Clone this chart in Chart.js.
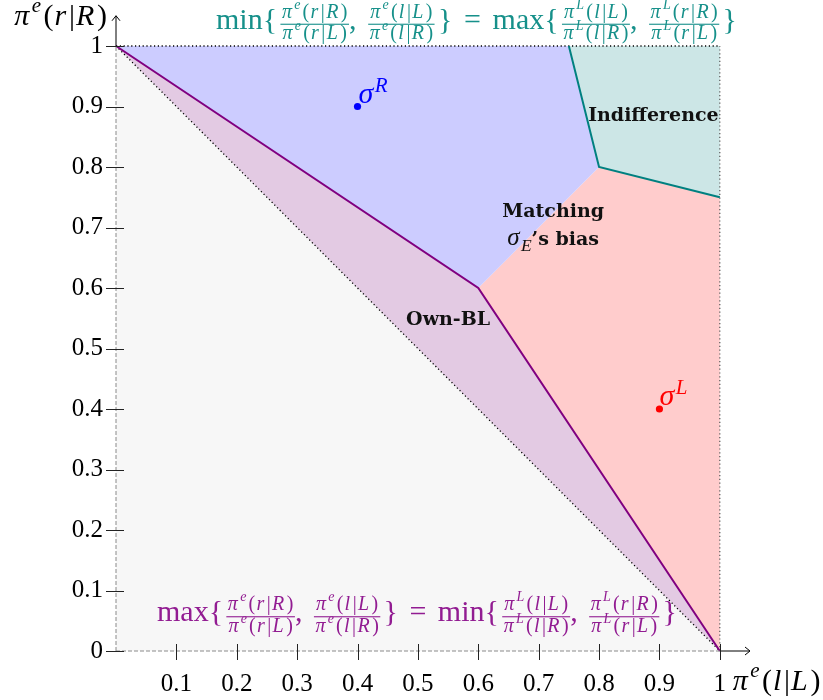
<!DOCTYPE html>
<html>
<head>
<meta charset="utf-8">
<script src="https://cdn.jsdelivr.net/npm/chart.js@4/dist/chart.umd.min.js"></script>
<style>
  html, body { margin: 0; padding: 0; background: #ffffff; }
  #wrap { width: 823px; height: 700px; position: relative; }
</style>
</head>
<body>
<div id="wrap"><canvas id="chart" width="823" height="700"></canvas></div>
<script>
// Axis ticks
const xTickValues = [0.1, 0.2, 0.3, 0.4, 0.5, 0.6, 0.7, 0.8, 0.9, 1];
const yTickValues = [0, 0.1, 0.2, 0.3, 0.4, 0.5, 0.6, 0.7, 0.8, 0.9, 1];

// Regions of the belief square (corners in data units)
const belowDiagonal   = [{x: 0, y: 0}, {x: 1, y: 0}, {x: 0, y: 1}];
const ownBLRegion     = [{x: 0, y: 1}, {x: 0.6, y: 0.6}, {x: 1, y: 0}];
const matchingRRegion = [{x: 0, y: 1}, {x: 0.75, y: 1}, {x: 0.8, y: 0.8}, {x: 0.6, y: 0.6}];
const indifferenceRegion = [{x: 0.75, y: 1}, {x: 1, y: 1}, {x: 1, y: 0.75}, {x: 0.8, y: 0.8}];
const matchingLRegion = [{x: 0.6, y: 0.6}, {x: 0.8, y: 0.8}, {x: 1, y: 0.75}, {x: 1, y: 0}];

// Boundaries
const ownBLBoundary        = [{x: 0, y: 1}, {x: 0.6, y: 0.6}, {x: 1, y: 0}];
const indifferenceBoundary = [{x: 0.75, y: 1}, {x: 0.8, y: 0.8}, {x: 1, y: 0.75}];
const diagonal  = [{x: 0, y: 1}, {x: 1, y: 0}];
const topEdge   = [{x: 0, y: 1}, {x: 1, y: 1}];
const rightEdge = [{x: 1, y: 0}, {x: 1, y: 1}];

// Sender strategies
const sigmaR = [{x: 0.4, y: 0.9}];
const sigmaL = [{x: 0.9, y: 0.4}];

const SERIF = '"Liberation Serif", "DejaVu Serif", serif';
const BOLD_SERIF = '"DejaVu Serif", "Liberation Serif", serif';
const TEAL = '#008080';
const TEAL_TEXT = '#16908a';
const PURPLE = '#800080';
const PURPLE_TEXT = '#921c92';

function polygon(points, color, order) {
  return {
    data: points, showLine: true, fill: 'shape', backgroundColor: color,
    borderColor: 'rgba(0,0,0,0)', borderWidth: 0, pointRadius: 0, order: order, clip: false
  };
}
function path(points, color, width, dash, order) {
  return {
    data: points, showLine: true, fill: false, borderColor: color, borderWidth: width,
    borderDash: dash, pointRadius: 0, order: order, clip: false
  };
}
function marker(points, color) {
  return {
    data: points, showLine: false, pointRadius: 3.6, pointBackgroundColor: color,
    pointBorderWidth: 0, pointBorderColor: color, order: 0, clip: false
  };
}

// ---- small math typesetting helpers ----
function glyphRuns(str, size, opts) {
  opts = opts || {};
  const supScale = opts.supScale || 0.7;
  const supRise = opts.supRise || 0.42;
  const out = [];
  for (let i = 0; i < str.length; i++) {
    let ch = str[i], sz = size, rise = 0, script = false;
    if (ch === '^' || ch === '_') {
      const sup = ch === '^';
      ch = str[++i];
      sz = size * supScale;
      rise = sup ? size * supRise : -size * 0.22;
      script = true;
    }
    const italic = !opts.upright && /[A-Za-z\u03c0\u03c3]/.test(ch);
    out.push({ch: ch, sz: sz, rise: rise, italic: italic, script: script});
  }
  return out;
}
function runFont(r) {
  return (r.italic ? 'italic ' : 'normal ') + r.sz + 'px ' + SERIF;
}
function layoutRuns(ctx, runs, track) {
  track = track || 0;
  let x = 0;
  const pos = [];
  runs.forEach((r, i) => {
    ctx.font = runFont(r);
    pos.push(x);
    x += ctx.measureText(r.ch).width;
    const next = runs[i + 1];
    if (next) {
      x += track;
      if (r.italic && !next.italic) x += r.sz * 0.06;
      if (r.italic && next.script && !r.script) x += r.sz * 0.05;
    }
  });
  return {runs: runs, pos: pos, w: x};
}
function drawLayout(ctx, lay, x, baseline) {
  lay.runs.forEach((r, i) => {
    ctx.font = runFont(r);
    ctx.fillText(r.ch, x + lay.pos[i], baseline - r.rise);
  });
}
function drawExpression(ctx, items, left, right, baseline, color) {
  ctx.save();
  ctx.fillStyle = color;
  ctx.textBaseline = 'alphabetic';
  ctx.textAlign = 'left';
  const prepared = items.map(it => {
    if (it.sp != null) return {sp: it.sp, w: it.sp};
    if (it.frac) {
      const n = layoutRuns(ctx, glyphRuns(it.frac[0], it.size, {supRise: 0.45}), 1.3);
      const d = layoutRuns(ctx, glyphRuns(it.frac[1], it.size, {supRise: 0.45}), 1.3);
      return {frac: true, n: n, d: d, w: Math.max(n.w, d.w) + 3};
    }
    const t = layoutRuns(ctx, glyphRuns(it.txt, it.size, {upright: true}));
    return {t: t, w: t.w};
  });
  const natural = prepared.reduce((s, p) => s + p.w, 0);
  const spTotal = prepared.reduce((s, p) => s + (p.sp != null ? p.sp : 0), 0);
  const extra = (right - left) - natural;
  let x = left;
  const bar = baseline - 4.3;
  prepared.forEach(p => {
    if (p.sp != null) {
      x += p.sp + extra * (p.sp / spTotal);
    } else if (p.frac) {
      ctx.fillRect(x, bar - 0.5, p.w, 1.1);
      drawLayout(ctx, p.n, x + (p.w - p.n.w) / 2, bar - 6.5);
      drawLayout(ctx, p.d, x + (p.w - p.d.w) / 2, bar + 15);
      x += p.w;
    } else {
      drawLayout(ctx, p.t, x, baseline);
      x += p.w;
    }
  });
  ctx.restore();
}
const ratios = [['π^e(r|R)', 'π^e(r|L)'], ['π^e(l|L)', 'π^e(l|R)'], ['π^L(l|L)', 'π^L(l|R)'], ['π^L(r|R)', 'π^L(r|L)']];
function condition(first, second, M, F) {
  return [
    {txt: first, size: M}, {txt: '{', size: M}, {sp: 2},
    {frac: ratios[0], size: F}, {txt: ',', size: M}, {sp: 7},
    {frac: ratios[1], size: F}, {sp: 2}, {txt: '}', size: M}, {sp: 7},
    {txt: '=', size: M}, {sp: 7},
    {txt: second, size: M}, {txt: '{', size: M}, {sp: 2},
    {frac: ratios[2], size: F}, {txt: ',', size: M}, {sp: 7},
    {frac: ratios[3], size: F}, {sp: 2}, {txt: '}', size: M}
  ];
}

const decorations = {
  id: 'decorations',
  afterDatasetsDraw(chart) {
    const ctx = chart.ctx;
    const xs = chart.scales.x, ys = chart.scales.y;
    const X = v => xs.getPixelForValue(v);
    const Y = v => ys.getPixelForValue(v);
    const x0 = X(0), y0 = Y(0);

    ctx.save();
    // dashed axes inside the unit square
    ctx.strokeStyle = '#8a8a8a';
    ctx.lineWidth = 1;
    ctx.setLineDash([4, 2]);
    ctx.beginPath();
    ctx.moveTo(x0, y0); ctx.lineTo(X(1), y0);
    ctx.moveTo(x0, y0); ctx.lineTo(x0, Y(1));
    ctx.stroke();
    ctx.setLineDash([]);

    // solid axis ends with arrow heads
    ctx.strokeStyle = '#000';
    ctx.lineWidth = 1;
    ctx.beginPath();
    ctx.moveTo(X(1), y0); ctx.lineTo(X(1.05), y0);
    ctx.moveTo(X(1.05) - 5, y0 - 4); ctx.lineTo(X(1.05), y0); ctx.lineTo(X(1.05) - 5, y0 + 4);
    ctx.moveTo(x0, Y(1)); ctx.lineTo(x0, Y(1.05));
    ctx.moveTo(x0 - 4, Y(1.05) + 5); ctx.lineTo(x0, Y(1.05)); ctx.lineTo(x0 + 4, Y(1.05) + 5);
    ctx.stroke();

    // tick marks crossing the axes
    ctx.strokeStyle = '#222';
    ctx.beginPath();
    yTickValues.forEach(v => { const y = Math.round(Y(v)) + 0.5; ctx.moveTo(x0 - 10, y); ctx.lineTo(x0 + 8, y); });
    xTickValues.forEach(v => { const x = Math.round(X(v)) + 0.5; ctx.moveTo(x, y0 - 7); ctx.lineTo(x, y0 + 9); });
    ctx.stroke();

    // axis labels
    ctx.fillStyle = '#000';
    const yl = layoutRuns(ctx, glyphRuns('π^e(r|R)', 30, {supRise: 0.45}), 1);
    drawLayout(ctx, yl, x0 - 9 - yl.w, 25);
    const xl = layoutRuns(ctx, glyphRuns('π^e(l|L)', 30, {supRise: 0.45}), 1);
    drawLayout(ctx, xl, X(1) + 13, 690);

    // strategy labels
    ctx.fillStyle = '#0000ff';
    drawLayout(ctx, layoutRuns(ctx, glyphRuns('σ^R', 30, {supRise: 0.36})), X(sigmaR[0].x) + 1, Y(sigmaR[0].y) - 3.5);
    ctx.fillStyle = '#ff0000';
    drawLayout(ctx, layoutRuns(ctx, glyphRuns('σ^L', 30, {supRise: 0.36})), X(sigmaL[0].x) + 0, Y(sigmaL[0].y) - 4);

    // region names
    ctx.fillStyle = '#111';
    ctx.textAlign = 'center';
    ctx.textBaseline = 'alphabetic';
    ctx.font = 'bold 19px ' + BOLD_SERIF;
    ctx.fillText('Indifference', X(0.89), Y(0.876));
    ctx.fillText('Matching', X(0.724), Y(0.717));
    ctx.fillText('Own-BL', X(0.55), Y(0.539));
    // σ_E's bias
    ctx.textAlign = 'left';
    const sg = layoutRuns(ctx, glyphRuns('σ_E', 25));
    ctx.font = 'bold 19px ' + BOLD_SERIF;
    const restW = ctx.measureText('\u2019s bias').width;
    const total = sg.w + restW;
    const sx = X(0.724) - total / 2;
    drawLayout(ctx, sg, sx, Y(0.671));
    ctx.font = 'bold 19px ' + BOLD_SERIF;
    ctx.fillText('\u2019s bias', sx + sg.w, Y(0.671));
    ctx.restore();

    // the two threshold conditions
    drawExpression(ctx, condition('min', 'max', 30, 20), 216, 737, 28.5, TEAL_TEXT);
    drawExpression(ctx, condition('max', 'min', 30, 20), 157, 677, 621, PURPLE_TEXT);
  }
};

function noEdgePadding(s) {
  s.paddingTop = 0; s.paddingBottom = 0; s.paddingLeft = 0; s.paddingRight = 0;
}

new Chart(document.getElementById('chart'), {
  type: 'scatter',
  data: {
    datasets: [
      polygon(belowDiagonal, '#f7f7f7', 20),
      polygon(ownBLRegion, '#e3cae3', 19),
      polygon(matchingRRegion, '#ccccff', 18),
      polygon(indifferenceRegion, '#cce6e6', 18),
      polygon(matchingLRegion, '#ffcccc', 18),
      path(diagonal, '#000', 1.3, [1.2, 2.6], 10),
      path(topEdge, '#000', 1.3, [1.2, 2.6], 10),
      path(rightEdge, '#555', 1.2, [1.2, 2.6], 10),
      path(indifferenceBoundary, TEAL, 2, [], 5),
      path(ownBLBoundary, PURPLE, 2, [], 5),
      marker(sigmaR, '#0000ff'),
      marker(sigmaL, '#ff0000')
    ]
  },
  options: {
    responsive: false,
    animation: false,
    events: [],
    layout: {padding: {top: 15.75, right: 73, left: 0, bottom: 0}},
    plugins: {legend: {display: false}, tooltip: {enabled: false}},
    scales: {
      x: {
        type: 'linear', min: 0, max: 1.05,
        border: {display: false},
        grid: {display: false, drawTicks: false},
        afterBuildTicks: s => { s.ticks = xTickValues.map(v => ({value: v})); },
        afterFit: s => { s.height = 49; noEdgePadding(s); },
        ticks: {
          autoSkip: false, maxRotation: 0, padding: 18, color: '#000',
          font: {family: SERIF, size: 25},
          callback: v => String(v)
        }
      },
      y: {
        type: 'linear', min: 0, max: 1.05,
        border: {display: false},
        grid: {display: false, drawTicks: false},
        afterBuildTicks: s => { s.ticks = yTickValues.map(v => ({value: v})); },
        afterFit: s => { s.width = 116; noEdgePadding(s); },
        ticks: {
          autoSkip: false, padding: 13, color: '#000',
          font: {family: SERIF, size: 25},
          callback: v => String(v)
        }
      }
    }
  },
  plugins: [decorations]
});
</script>
</body>
</html>
